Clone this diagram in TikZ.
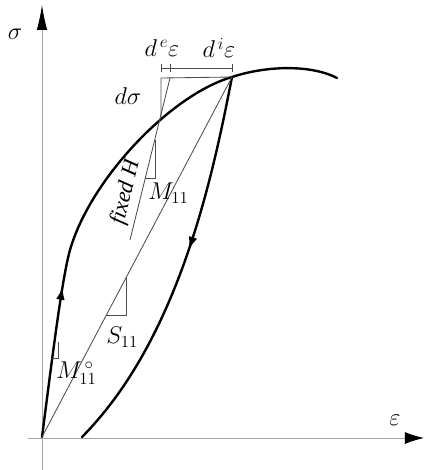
\documentclass[tikz,border=0pt]{standalone}
\usepackage{fontspec}
\setmainfont{Liberation Serif}
\usetikzlibrary{arrows.meta,decorations.markings}
\begin{document}
\begin{tikzpicture}[
    x=0.025cm, y=-0.025cm,
    axis/.style={draw=black!35, line width=0.6pt},
    curve/.style={line width=1.7pt, line cap=round},
    thinline/.style={draw=black!70, line width=0.6pt},
    lbl/.style={font=\fontsize{17}{19}\selectfont, inner sep=0pt},
    arrowat/.style={postaction={decorate}, decoration={markings,
        mark=at position #1 with {\arrow{Latex[length=0.32cm,width=0.22cm]}}}}
]
\useasboundingbox (0,0) rectangle (424,470);

% Key points
\coordinate (O) at (42,437);
\coordinate (P) at (232,77);
\coordinate (Q) at (82,437);
\coordinate (C) at (161,117);
\coordinate (Ctop) at (161,78);
\coordinate (H1) at (130,240);
\coordinate (H2) at (170,78);
\coordinate (D1) at (161,68);
\coordinate (D2) at (232,68);

% Axes
\draw[axis, -{Latex[length=0.62cm,width=0.26cm,color=black]}] (42,470) -- (42,5);
\draw[axis, -{Latex[length=0.48cm,width=0.3cm,color=black]}] (28,438) -- (424,438);
\node[lbl] (sigma) at (15,34) {$\sigma$};
\node[lbl] (eps) at (395,420) {$\varepsilon$};

% Loading curve
\draw[curve, arrowat=0.28] (O) .. controls (52,360) and (62,278) .. (70,250)
    .. controls (90,180) and (170,95) .. (P)
    .. controls (265,66) and (310,64) .. (337,78);

% Unloading curve
\draw[curve, arrowat=0.45] (P) .. controls (212,180) and (178,340) .. (Q);

% Secant and fixed H lines
\draw[thinline] (O) -- (P);
\draw[thinline] (H1) -- (H2);
\draw[thinline] (C) -- (Ctop) -- (P);

% Increment bar
\draw[thinline] (D1) -- (D2);
\foreach \x in {161,170,232}
    \draw[thinline] (\x,64) -- (\x,72);
\node[lbl] (dee) at (162,48) {$d^{\,e}\varepsilon$};
\node[lbl] (die) at (219,48) {$d^{\,i}\varepsilon$};
\node[lbl] (dsig) at (128,96) {$d\sigma$};

% Slope triangles
\draw[thinline] (145.5,178) -- (155,178) -- (155,140);
\draw[thinline] (106.4,315) -- (126,315) -- (126,278);
\draw[thinline] (52.5,358) -- (58,358) -- (58,342);

\node[lbl, anchor=west] (m11) at (148,193) {$M_{11}$};
\node[lbl, anchor=west] (s11) at (106,337) {$S_{11}$};
\node[lbl, anchor=west] (m110) at (56,373) {$M_{11}^{\,\circ}$};
\node[lbl, font=\fontsize{16}{18}\selectfont, rotate=76] (fixh) at (126,192) {\textit{fixed H}};
\end{tikzpicture}
\end{document}
